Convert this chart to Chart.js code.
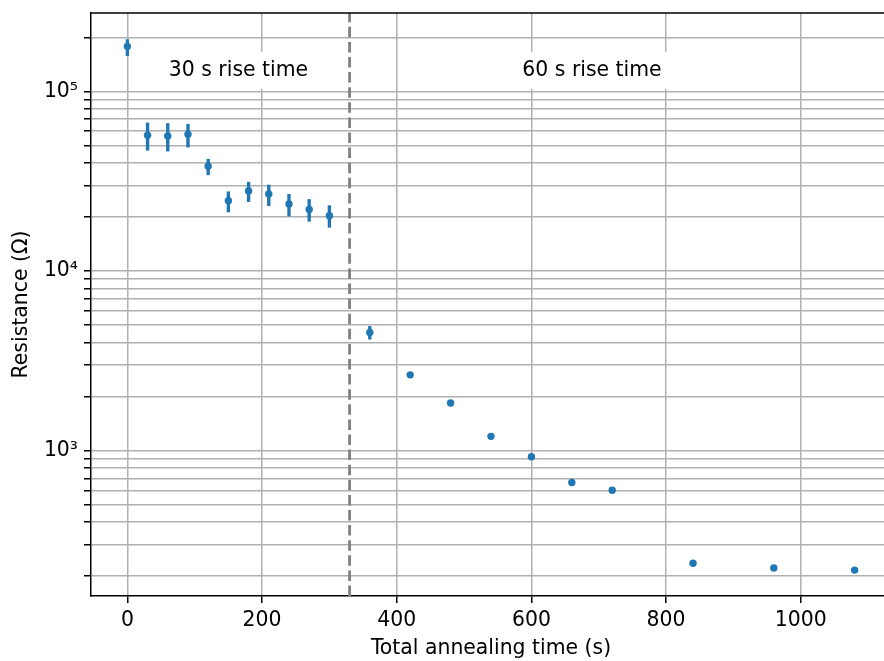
<!DOCTYPE html>
<html>
<head>
<meta charset="utf-8">
<script src="https://cdn.jsdelivr.net/npm/chart.js@4"></script>
<style>
  html, body { margin: 0; padding: 0; overflow: hidden; background: #fff; }
</style>
</head>
<body>
<canvas id="resChart" width="910" height="661"></canvas>
<script>
// Annealing data: total time (s) vs resistance (ohm)
const times = [0, 30, 60, 90, 120, 150, 180, 210, 240, 270, 300, 360, 420, 480, 540, 600, 660, 720, 840, 960, 1080];
const resistance = [178000, 57000, 56500, 57700, 38300, 24600, 27900, 26800, 23600, 22000, 20300, 4540, 2640, 1840, 1200, 923, 664, 601, 236, 222, 216];
// error bar ends (only the first points have visible bars)
const errLow = [158000, 47000, 46500, 48900, 34300, 21300, 24300, 23100, 20200, 18900, 17500, 4170];
const errHigh = [194000, 66700, 66200, 65600, 41900, 27600, 31200, 30100, 26700, 25000, 23100, 4910];

const xTicks = [0, 200, 400, 600, 800, 1000];
const yMajor = [1000, 10000, 100000];
const yMajorLabels = ['10\u00b3', '10\u2074', '10\u2075'];

const splitTime = 330;
const noteLabels = ['30 s rise time', '60 s rise time'];
const noteX = [165, 690];
const noteY = 131000;

const xMin = -54, xMax = 1134;
const yMin = 155, yMax = 273000;

const fontSize = 20.4;
const font = { family: 'DejaVu Sans', size: fontSize };
Chart.defaults.font.family = 'DejaVu Sans';
Chart.defaults.color = '#000';

// white boxed labels and the top spine
const notesPlugin = {
  id: 'notes',
  beforeDatasetsDraw(chart) {
    const c = chart.ctx, xs = chart.scales.x, ys = chart.scales.y;
    c.save();
    c.font = fontSize + 'px "DejaVu Sans"';
    c.textAlign = 'center';
    c.textBaseline = 'middle';
    noteLabels.forEach((txt, i) => {
      const px = xs.getPixelForValue(noteX[i]);
      const py = ys.getPixelForValue(noteY);
      const w = c.measureText(txt).width;
      c.fillStyle = '#fff';
      c.fillRect(px - w / 2 - 10, py - 18.5, w + 20, 37);
      c.fillStyle = '#000';
      c.fillText(txt, px, py);
    });
    c.restore();
  },
  afterDraw(chart) {
    const c = chart.ctx, a = chart.chartArea;
    c.save();
    c.strokeStyle = '#000';
    c.lineWidth = 1.5;
    c.beginPath();
    c.moveTo(a.left, a.top);
    c.lineTo(a.right + 10, a.top);
    c.stroke();
    c.restore();
  }
};

const ctx = document.getElementById('resChart').getContext('2d');
const chart = new Chart(ctx, {
  type: 'scatter',
  data: {
    datasets: [{
      type: 'scatter',
      data: times.map((t, i) => ({ x: t, y: resistance[i] })),
      backgroundColor: '#1f77b4',
      borderWidth: 0,
      pointRadius: 3.7,
      order: 0
    }, {
      type: 'bar',
      data: errLow.map((lo, i) => ({ x: times[i], y: [lo, errHigh[i]] })),
      backgroundColor: '#1f77b4',
      barThickness: 2.7,
      order: 1
    }, {
      type: 'line',
      data: [{ x: splitTime, y: yMin }, { x: splitTime, y: yMax }],
      borderColor: '#808080',
      borderWidth: 2.8,
      borderDash: [10.5, 4.6],
      pointRadius: 0,
      order: 2
    }]
  },
  options: {
    responsive: false,
    animation: false,
    layout: { padding: { left: 9, top: 13, right: 19, bottom: 0 } },
    plugins: { legend: { display: false }, tooltip: { enabled: false } },
    scales: {
      x: {
        type: 'linear',
        min: xMin,
        max: xMax,
        offset: false,
        afterBuildTicks: axis => { axis.ticks = xTicks.map(v => ({ value: v })); },
        afterFit: axis => { axis.height = 65; axis.paddingLeft = 0; axis.paddingRight = 0; },
        ticks: { font: font, color: '#000', padding: 5, autoSkip: false, maxRotation: 0, callback: v => String(v) },
        grid: { color: '#b0b0b0', lineWidth: 1.5, tickColor: '#000', tickLength: 7, offset: false },
        border: { color: '#000', width: 1.5 },
        title: { display: true, text: 'Total annealing time (s)', font: font, color: '#000', padding: { top: 2, bottom: 0 } }
      },
      y: {
        type: 'logarithmic',
        min: yMin,
        max: yMax,
        afterBuildTicks: axis => {
          const ticks = [];
          for (let e = 2; e <= 5; e++) {
            for (let k = 1; k <= 9; k++) {
              const v = k * Math.pow(10, e);
              if (v >= yMin && v <= yMax) ticks.push({ value: v });
            }
          }
          axis.ticks = ticks;
        },
        afterFit: axis => { axis.width = 82; axis.paddingTop = 0; axis.paddingBottom = 0; },
        ticks: {
          font: font,
          color: '#000',
          padding: 6,
          autoSkip: false,
          callback: v => {
            const i = yMajor.indexOf(v);
            return i >= 0 ? yMajorLabels[i] : '';
          }
        },
        grid: { color: '#b0b0b0', lineWidth: 1.5, tickColor: '#000', tickLength: 7 },
        border: { color: '#000', width: 1.5 },
        title: { display: true, text: 'Resistance (\u03a9)', font: font, color: '#000', padding: { top: 0, bottom: 0 } }
      }
    }
  },
  plugins: [notesPlugin]
});
</script>
</body>
</html>
